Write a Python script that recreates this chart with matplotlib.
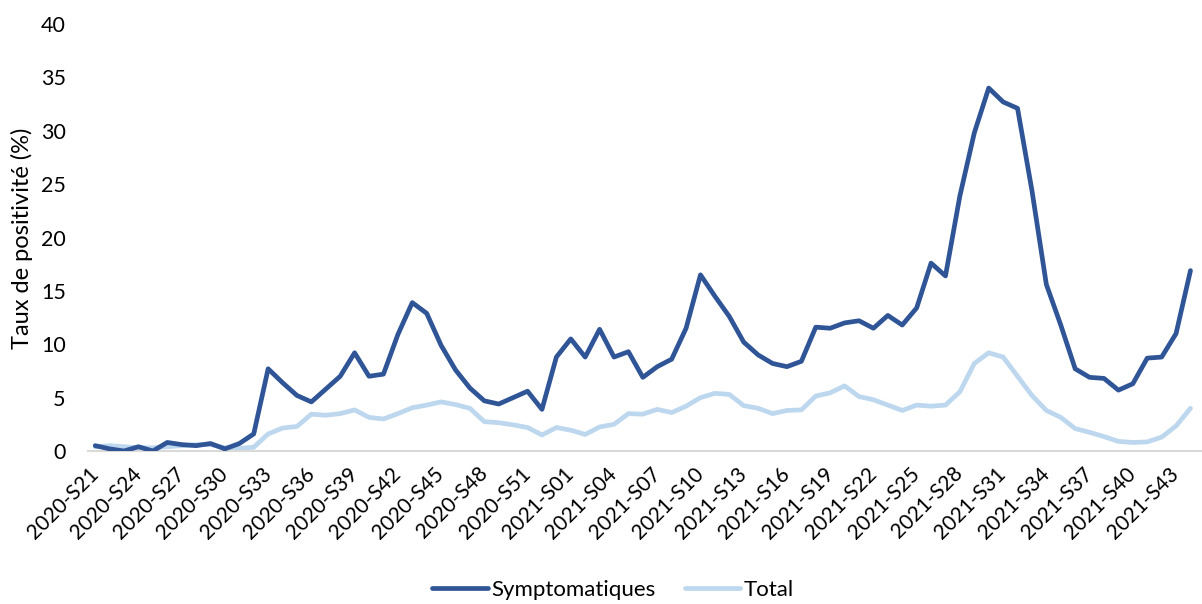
import matplotlib
matplotlib.use("Agg")
import matplotlib.pyplot as plt

plt.rcParams['font.family'] = ['Lato', 'DejaVu Sans']

# ISO weeks 2020-S21 .. 2021-S44 (2020 has 53 weeks)
weeks = [f"2020-S{w:02d}" for w in range(21, 54)] + [f"2021-S{w:02d}" for w in range(1, 45)]

symptomatiques = [
    0.5, 0.2, 0.0, 0.4, 0.0, 0.8, 0.6, 0.5, 0.7, 0.2, 0.7, 1.6,
    7.7, 6.4, 5.2, 4.6, 5.8, 7.0, 9.2, 7.0, 7.2, 10.9,
    13.9, 12.9, 9.9, 7.6, 5.9, 4.7, 4.4, 5.0, 5.6, 3.9,
    8.8, 10.5, 8.8, 11.4, 8.8, 9.3, 6.9, 7.9, 8.6, 11.5,
    16.5, 14.5, 12.6, 10.2, 9.0, 8.2, 7.9, 8.4, 11.6, 11.5,
    12.0, 12.2, 11.5, 12.7, 11.8, 13.4, 17.6, 16.4, 23.9, 29.8,
    34.0, 32.7, 32.1, 24.4, 15.6, 11.8, 7.7, 6.9, 6.8, 5.7,
    6.3, 8.7, 8.8, 11.0, 16.9,
]
total = [
    0.4, 0.5, 0.4, 0.3, 0.3, 0.4, 0.5, 0.6, 0.6, 0.3, 0.25, 0.35,
    1.6, 2.15, 2.3, 3.45, 3.35, 3.5, 3.85, 3.15, 3.0, 3.5,
    4.05, 4.3, 4.6, 4.35, 4.0, 2.75, 2.65, 2.45, 2.2, 1.5,
    2.2, 1.95, 1.55, 2.25, 2.5, 3.5, 3.45, 3.9, 3.6, 4.2,
    5.0, 5.4, 5.3, 4.25, 4.0, 3.5, 3.8, 3.85, 5.15, 5.45,
    6.1, 5.1, 4.8, 4.3, 3.8, 4.3, 4.2, 4.3, 5.55, 8.2,
    9.2, 8.8, 7.0, 5.2, 3.8, 3.15, 2.1, 1.75, 1.35, 0.9,
    0.8, 0.85, 1.3, 2.35, 4.0,
]

dark_blue = "#2F5597"
light_blue = "#BDD7EE"

fig = plt.figure(figsize=(12.02, 6.04), dpi=100)
ax = fig.add_axes([88 / 1202, 153 / 604, 1114 / 1202, 427 / 604])

x = list(range(len(weeks)))
ax.plot(x, symptomatiques, color=dark_blue, linewidth=3.4, label="Symptomatiques",
        solid_joinstyle="round", solid_capstyle="round", zorder=3)
ax.plot(x, total, color=light_blue, linewidth=3.4, label="Total",
        solid_joinstyle="round", solid_capstyle="round", zorder=2)

ax.set_xlim(-0.5, len(weeks) - 0.2)
ax.set_ylim(0, 40)
ax.set_yticks(range(0, 41, 5))
ax.set_xticks(x[::3])
ax.set_xticklabels(weeks[::3], rotation=45, ha="right", va="center",
                   rotation_mode="anchor", fontsize=15)
ax.tick_params(axis="x", length=0, pad=14)
ax.tick_params(axis="y", length=0, pad=16, labelsize=15.5)

for side in ["top", "right", "left"]:
    ax.spines[side].set_visible(False)
ax.spines["bottom"].set_color("#D9D9D9")
ax.spines["bottom"].set_linewidth(1.5)

fig.text(22 / 1202, 1 - 238 / 604, "Taux de positivité (%)", rotation=90,
         ha="center", va="center", fontsize=17)

fig.legend(loc="center", bbox_to_anchor=(613 / 1202, 1 - 590 / 604), ncol=2,
           frameon=False, fontsize=16, handlelength=2.5, handletextpad=0.15,
           columnspacing=1.3)

plt.savefig("out.png", dpi=100)
plt.close()
